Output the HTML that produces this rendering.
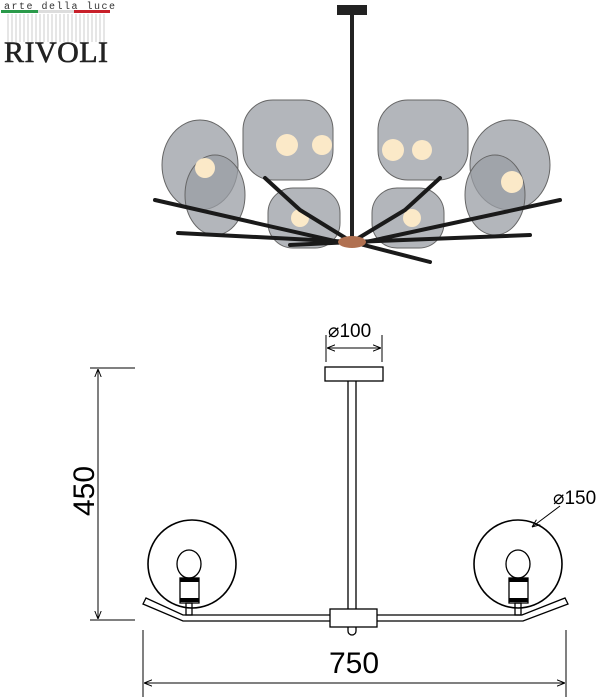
<!DOCTYPE html>
<html><head><meta charset="utf-8"><style>
html,body{margin:0;padding:0;background:#fff;width:604px;height:700px;overflow:hidden}
svg{display:block}
</style></head><body>
<svg width="604" height="700" viewBox="0 0 604 700" xmlns="http://www.w3.org/2000/svg">
<defs>
<marker id="a" viewBox="0 0 10 10" refX="10" refY="5" markerWidth="8" markerHeight="8" orient="auto-start-reverse"><path d="M0,1 L10,5 L0,9" fill="none" stroke="#000" stroke-width="1.2"/></marker>
</defs>
<!-- logo -->
<text x="4" y="9" font-family="Liberation Mono, monospace" font-size="10" fill="#333" letter-spacing="1.5">arte della luce</text>
<rect x="1" y="10" width="37" height="3" fill="#2a9a4a"/><rect x="38" y="10" width="36" height="3" fill="#ddd"/><rect x="74" y="10" width="36" height="3" fill="#c8202a"/>
<g stroke="#ccc" stroke-width="1">
<path d="M8 14V42M12 14V42M16 14V42M20 14V42M24 14V42M28 14V42M32 14V42M36 14V42M40 14V42M44 14V42M48 14V42M52 14V42M56 14V42M60 14V42M64 14V42M68 14V42M72 14V42M76 14V42M80 14V42M84 14V42M88 14V42M92 14V42M96 14V42M100 14V42M104 14V42"/>
</g>
<text x="4" y="62" font-family="Liberation Serif, serif" font-size="30" fill="#222" stroke="#222" stroke-width="0.6" textLength="104">RIVOLI</text>
<!-- photo approximation -->
<rect x="337" y="5" width="30" height="10" fill="#222"/>
<rect x="350" y="14" width="4" height="230" fill="#222"/>
<g fill="#9a9ea4" fill-opacity="0.75" stroke="#666" stroke-width="1">
<ellipse cx="200" cy="165" rx="38" ry="45"/>
<ellipse cx="215" cy="195" rx="30" ry="40"/>
<rect x="243" y="100" width="90" height="80" rx="30"/>
<rect x="268" y="188" width="72" height="60" rx="25"/>
<rect x="378" y="100" width="90" height="80" rx="30"/>
<rect x="372" y="188" width="72" height="60" rx="25"/>
<ellipse cx="510" cy="165" rx="40" ry="45"/>
<ellipse cx="495" cy="195" rx="30" ry="40"/>
</g>
<g fill="#fbe9c8"><circle cx="205" cy="168" r="10"/><circle cx="287" cy="145" r="11"/><circle cx="322" cy="145" r="10"/><circle cx="393" cy="150" r="11"/><circle cx="422" cy="150" r="10"/><circle cx="512" cy="182" r="11"/><circle cx="300" cy="218" r="9"/><circle cx="412" cy="218" r="9"/></g>
<g stroke="#1a1a1a" stroke-width="4" fill="none" stroke-linecap="round">
<path d="M155 200 L352 245 L560 200"/><path d="M178 233 L352 242 L530 235"/>
<path d="M265 178 L300 210 L352 242"/><path d="M440 178 L405 210 L352 242"/>
<path d="M290 245 L352 242 L430 262"/>
</g>
<ellipse cx="352" cy="242" rx="14" ry="6" fill="#b07050"/>
<!-- drawing -->
<g stroke="#000" stroke-width="1.3" fill="none">
<rect x="325" y="367" width="58" height="14"/>
<line x1="348" y1="381" x2="348" y2="610"/><line x1="356" y1="381" x2="356" y2="610"/>
<path d="M183 615 L522 615 L565 598 L568 604 L523 621 L183 621 L143 604 L146 598 Z" fill="#fff"/>
<rect x="330" y="609" width="47" height="18" fill="#fff"/>
<path d="M348 627 v4 a4 4 0 0 0 8 0 v-4"/>
<circle cx="192" cy="564" r="44" stroke-width="1.6"/>
<circle cx="518" cy="564" r="44" stroke-width="1.6"/>
<ellipse cx="189" cy="564" rx="12" ry="14"/>
<rect x="180" y="578" width="19" height="25"/>
<rect x="186" y="603" width="6" height="12"/>
<ellipse cx="518" cy="564" rx="12" ry="14"/>
<rect x="509" y="578" width="19" height="25"/>
<rect x="515" y="603" width="6" height="12"/>
</g>
<g fill="#000"><rect x="180" y="578" width="19" height="4"/><rect x="180" y="598" width="19" height="4"/><rect x="509" y="578" width="19" height="4"/><rect x="509" y="598" width="19" height="4"/></g>
<!-- dimensions -->
<g stroke="#000" stroke-width="1" fill="none">
<line x1="90" y1="368" x2="135" y2="368"/><line x1="90" y1="620" x2="135" y2="620"/>
<line x1="98" y1="369" x2="98" y2="619" marker-start="url(#a)" marker-end="url(#a)"/>
<line x1="143" y1="630" x2="143" y2="697"/><line x1="566" y1="630" x2="566" y2="697"/>
<line x1="144" y1="683" x2="565" y2="683" marker-start="url(#a)" marker-end="url(#a)"/>
<line x1="326" y1="335" x2="326" y2="362"/><line x1="382" y1="335" x2="382" y2="362"/>
<line x1="327" y1="348" x2="381" y2="348" marker-start="url(#a)" marker-end="url(#a)"/>
<line x1="560" y1="506" x2="532" y2="527" marker-end="url(#a)"/>
</g>
<text x="354" y="673" text-anchor="middle" font-family="Liberation Sans, sans-serif" font-size="30">750</text>
<text transform="translate(94,491) rotate(-90)" text-anchor="middle" font-family="Liberation Sans, sans-serif" font-size="30">450</text>
<text x="328" y="337" font-family="Liberation Sans, sans-serif" font-size="19">⌀100</text>
<text x="553" y="504" font-family="Liberation Sans, sans-serif" font-size="19">⌀150</text>
</svg>
</body></html>
